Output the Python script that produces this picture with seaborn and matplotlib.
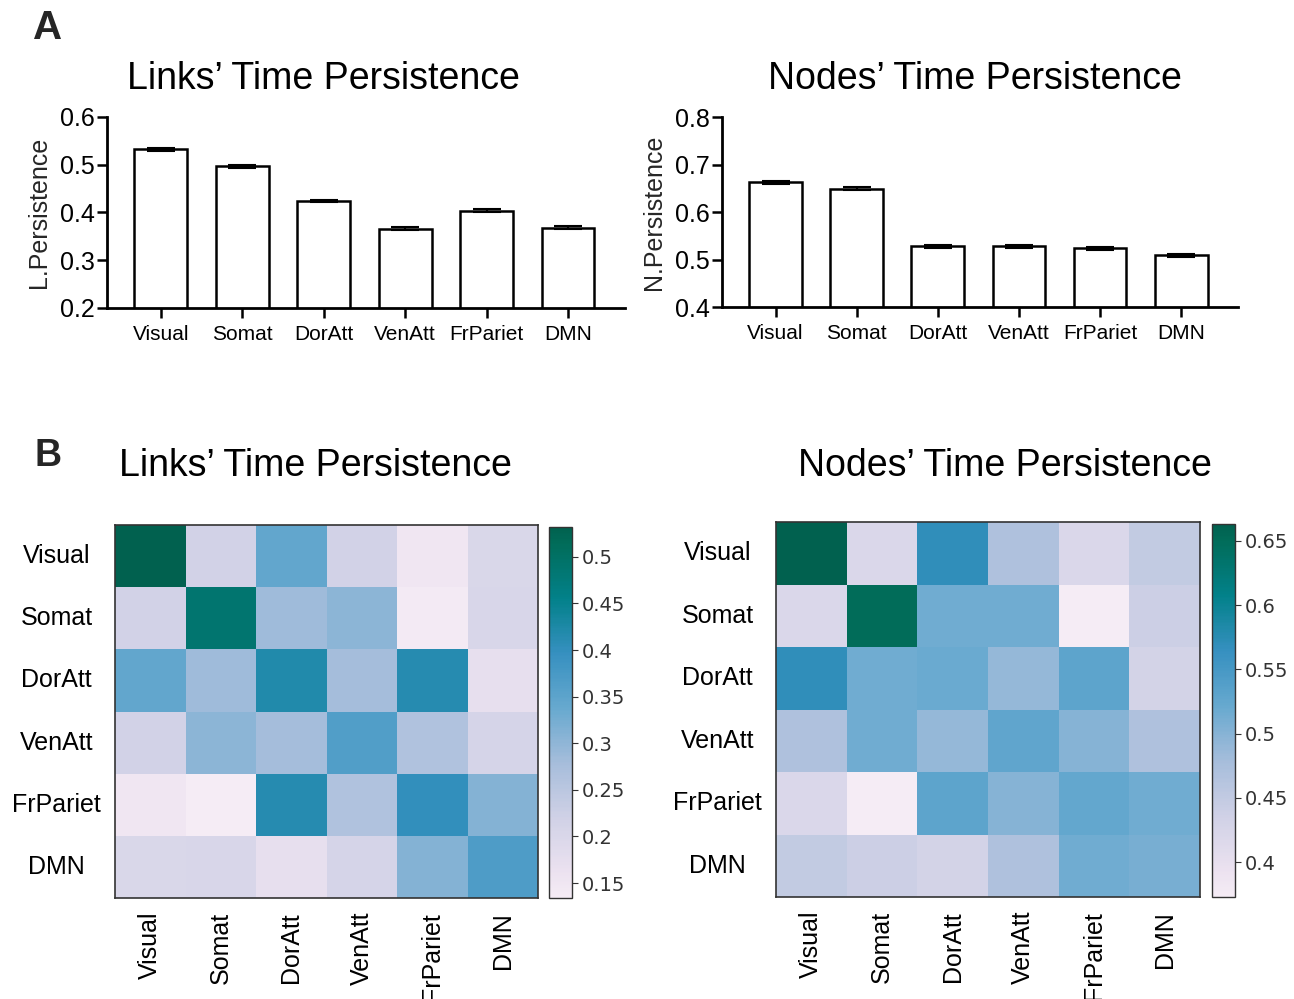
import numpy as np
import pandas as pd
import matplotlib
matplotlib.use("Agg")
import matplotlib.pyplot as plt
from matplotlib.ticker import FuncFormatter
from matplotlib.colors import ListedColormap
import seaborn as sns

networks = ["Visual", "Somat", "DorAtt", "VenAtt", "FrPariet", "DMN"]

links_mean = [0.532, 0.497, 0.424, 0.366, 0.404, 0.368]
links_sem = [0.003, 0.003, 0.003, 0.003, 0.003, 0.003]
nodes_mean = [0.663, 0.649, 0.528, 0.528, 0.524, 0.509]
nodes_sem = [0.003, 0.003, 0.003, 0.003, 0.003, 0.003]

links_matrix = [
    [0.532, 0.215, 0.345, 0.215, 0.150, 0.200],
    [0.215, 0.488, 0.285, 0.305, 0.140, 0.205],
    [0.345, 0.285, 0.420, 0.280, 0.415, 0.170],
    [0.215, 0.305, 0.280, 0.365, 0.265, 0.210],
    [0.150, 0.134, 0.415, 0.265, 0.400, 0.310],
    [0.200, 0.205, 0.170, 0.210, 0.310, 0.368],
]
nodes_matrix = [
    [0.663, 0.420, 0.570, 0.470, 0.420, 0.450],
    [0.420, 0.650, 0.515, 0.515, 0.373, 0.440],
    [0.570, 0.515, 0.520, 0.490, 0.530, 0.430],
    [0.470, 0.515, 0.490, 0.528, 0.500, 0.470],
    [0.420, 0.373, 0.530, 0.500, 0.524, 0.515],
    [0.450, 0.440, 0.430, 0.470, 0.515, 0.509],
]

links_cticks = [0.15, 0.2, 0.25, 0.3, 0.35, 0.4, 0.45, 0.5]
nodes_cticks = [0.4, 0.45, 0.5, 0.55, 0.6, 0.65]

sns.set_theme(style="ticks")
plt.rcParams['font.family'] = ['Liberation Sans', 'DejaVu Sans']

cmap = ListedColormap(matplotlib.colormaps["PuBuGn"](np.linspace(0.07, 0.91, 256)))

W, H = 1294, 999
fig = plt.figure(figsize=(W / 100, H / 100), dpi=100)


def box(x0, y0, x1, y1):
    return [x0 / W, 1 - y1 / H, (x1 - x0) / W, (y1 - y0) / H]


def bar_panel(rect, means, sems, ylim, yticks, ylabel):
    ax = fig.add_axes(rect)
    df = pd.DataFrame({"network": networks, "value": means})
    sns.barplot(data=df, x="network", y="value", ax=ax, color="white",
                edgecolor="black", linewidth=1.8, width=0.65, errorbar=None)
    for p in ax.patches:
        p.set_facecolor("white")
    ax.errorbar(np.arange(len(networks)), means, yerr=sems, fmt="none",
                ecolor="black", elinewidth=1.5, capsize=10, capthick=1.5)
    ax.set_ylim(*ylim)
    ax.set_yticks(yticks)
    ax.yaxis.set_major_formatter(FuncFormatter(lambda v, p: f"{v:g}"))
    ax.set_xlim(-0.66, 5.7)
    sns.despine(ax=ax)
    for s in ("left", "bottom"):
        ax.spines[s].set_linewidth(2)
        ax.spines[s].set_color("black")
    ax.tick_params(axis="y", labelsize=18, length=7, width=1.8, pad=2, colors="black")
    ax.tick_params(axis="x", labelsize=15, length=7, width=1.8, pad=5, colors="black")
    ax.set_xlabel("")
    ax.set_ylabel(ylabel, fontsize=18, labelpad=6)
    return ax


bar_panel(box(107, 117, 625, 308), links_mean, links_sem, (0.2, 0.6),
          [0.2, 0.3, 0.4, 0.5, 0.6], "L.Persistence")
bar_panel(box(722, 117, 1238, 307), nodes_mean, nodes_sem, (0.4, 0.8),
          [0.4, 0.5, 0.6, 0.7, 0.8], "N.Persistence")


def heat_panel(rect, crect, mat, cticks):
    ax = fig.add_axes(rect)
    cax = fig.add_axes(crect)
    df = pd.DataFrame(mat, index=networks, columns=networks)
    sns.heatmap(df, ax=ax, cbar_ax=cax, cmap=cmap,
                cbar_kws={"ticks": cticks})
    for s in ax.spines.values():
        s.set_visible(True)
        s.set_linewidth(1.2)
        s.set_color("#333333")
    ax.set_xlabel("")
    ax.set_ylabel("")
    ax.tick_params(axis="both", length=0, labelsize=18, colors="black")
    ax.tick_params(axis="y", pad=42)
    ax.tick_params(axis="x", pad=10)
    for lab in ax.get_yticklabels():
        lab.set_rotation(0)
        lab.set_ha("center")
        lab.set_va("center")
    for lab in ax.get_xticklabels():
        lab.set_rotation(90)
        lab.set_ha("center")
        lab.set_va("top")
    cax.yaxis.set_major_formatter(FuncFormatter(lambda v, p: f"{v:g}"))
    cax.tick_params(labelsize=14, length=4, width=0.8, colors="#333333", pad=3)
    for lab in cax.get_yticklabels():
        lab.set_fontfamily("DejaVu Sans")
    cbar = ax.collections[0].colorbar
    cbar.outline.set_edgecolor("#333333")
    cbar.outline.set_linewidth(1.0)
    return ax


heat_panel(box(115, 525, 538, 898), box(549, 527, 572, 898), links_matrix, links_cticks)
heat_panel(box(776, 522, 1200, 897), box(1212, 524, 1235, 897), nodes_matrix, nodes_cticks)

title_kw = dict(fontsize=27, ha="center", va="center", color="black")
fig.text(323 / W, 1 - 79 / H, "Links\u2019 Time Persistence", **title_kw)
fig.text(975 / W, 1 - 79 / H, "Nodes\u2019 Time Persistence", **title_kw)
fig.text(315 / W, 1 - 466 / H, "Links\u2019 Time Persistence", **title_kw)
fig.text(1005 / W, 1 - 466 / H, "Nodes\u2019 Time Persistence", **title_kw)

fig.text(48 / W, 1 - 28 / H, "A", fontsize=29, fontweight="bold", ha="center", va="center")
fig.text(48 / W, 1 - 456 / H, "B", fontsize=27, fontweight="bold", ha="center", va="center")

fig.savefig("out.png", dpi=100, facecolor="white")
